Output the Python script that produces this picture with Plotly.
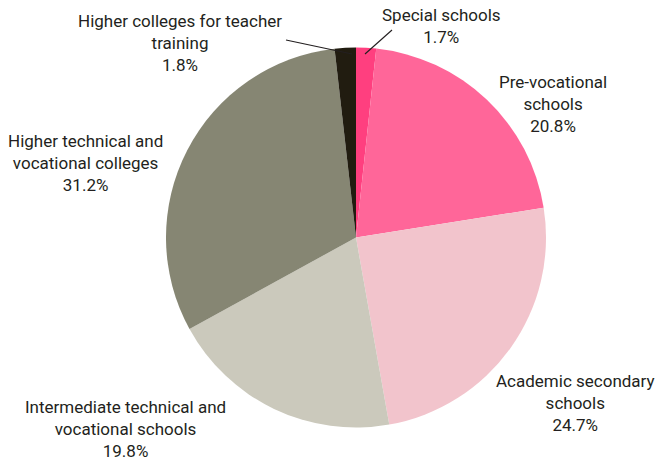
import plotly.graph_objects as go

categories = ["Special schools", "Pre-vocational schools", "Academic secondary schools",
              "Intermediate technical and vocational schools",
              "Higher technical and vocational colleges",
              "Higher colleges for teacher training"]
values = [1.7, 20.8, 24.7, 19.8, 31.2, 1.8]
label_texts = ["Special schools<br>1.7%", "Pre-vocational<br>schools<br>20.8%",
               "Academic secondary<br>schools<br>24.7%",
               "Intermediate technical and<br>vocational schools<br>19.8%",
               "Higher technical and<br>vocational colleges<br>31.2%",
               "Higher colleges for teacher<br>training<br>1.8%"]
colors = ["#ff3f7f", "#ff6699", "#f2c4cc", "#cbc9bc", "#868673", "#211c10"]

W, H = 655, 461
cx, cy, r = 356, 237.5, 190

def px(x):
    return x / W

def py(y):
    return 1 - y / H

fig = go.Figure(go.Pie(
    labels=categories, values=values, sort=False, direction="clockwise", rotation=0,
    marker=dict(colors=colors, line=dict(width=0)),
    textinfo="none", hoverinfo="label+percent", showlegend=False,
    domain=dict(x=[(cx - r) / W, (cx + r) / W], y=[(H - cy - r) / H, (H - cy + r) / H]),
))

font = dict(family="Roboto, sans-serif", size=17, color="#231f20")
label_pos = [(441, 26), (553, 104), (575, 403), (125, 429), (85, 163), (180, 43)]
arrows = [(365, 54, 392, 30), (352, 54, 286, 40)]
for t, (x, y) in zip(label_texts, label_pos):
    fig.add_annotation(x=px(x), y=py(y), xref="paper", yref="paper", text=t,
                       showarrow=False, font=font, align="center",
                       xanchor="center", yanchor="middle")
for (x0, y0, x1, y1) in arrows:
    fig.add_shape(type="line", xref="paper", yref="paper",
                  x0=px(x0), y0=py(y0), x1=px(x1), y1=py(y1),
                  line=dict(color="#231f20", width=1.2))

fig.update_layout(width=W, height=H, margin=dict(l=0, r=0, t=0, b=0),
                  paper_bgcolor="white", plot_bgcolor="white")
fig.write_html("out.html", config={"displayModeBar": False},
               post_script="document.body.style.margin='0';")
